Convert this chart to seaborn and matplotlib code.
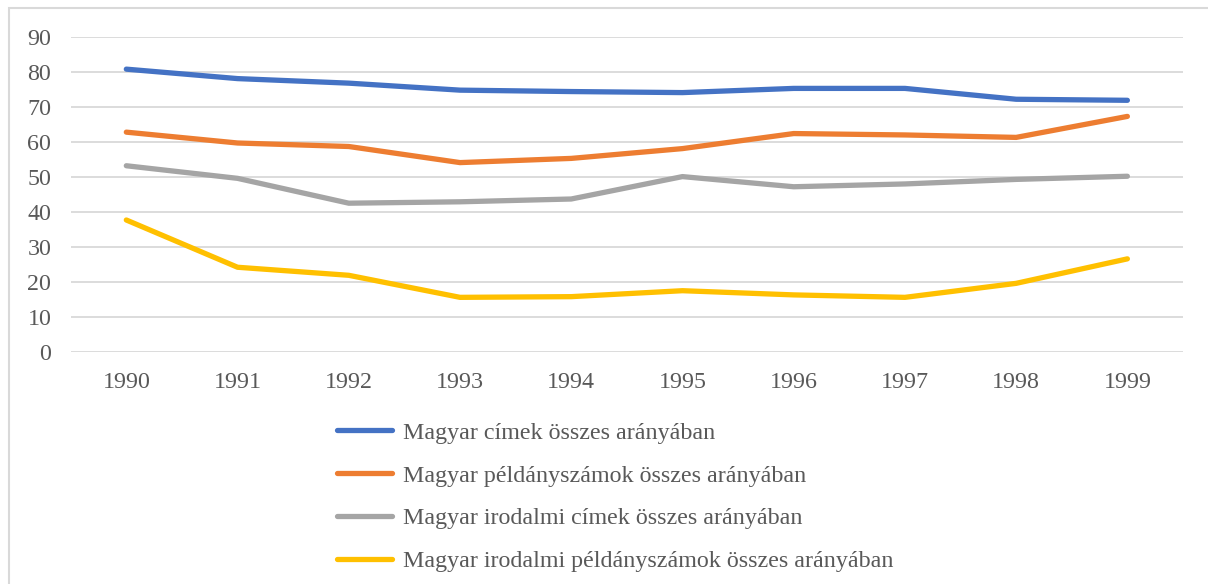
import numpy as np
import pandas as pd
import matplotlib
matplotlib.use("Agg")
import matplotlib.pyplot as plt
from matplotlib.patches import Rectangle
import seaborn as sns

# 数据
years = [1990, 1991, 1992, 1993, 1994, 1995, 1996, 1997, 1998, 1999]
cimek = [80.9, 78.2, 76.9, 74.9, 74.5, 74.2, 75.4, 75.4, 72.3, 72.0]
peldanyszamok = [62.9, 59.8, 58.8, 54.2, 55.4, 58.2, 62.5, 62.1, 61.4, 67.4]
irodalmi_cimek = [53.3, 49.7, 42.6, 43.0, 43.8, 50.2, 47.3, 48.1, 49.4, 50.3]
irodalmi_peldany = [37.8, 24.3, 22.0, 15.7, 15.9, 17.6, 16.4, 15.7, 19.7, 26.7]

series_names = [
    "Magyar címek összes arányában",
    "Magyar példányszámok összes arányában",
    "Magyar irodalmi címek összes arányában",
    "Magyar irodalmi példányszámok összes arányában",
]
colors = ["#4472C4", "#ED7D31", "#A5A5A5", "#FFC000"]

# 长格式表
df = pd.concat([
    pd.DataFrame({"year": years, "value": vals, "series": name})
    for name, vals in zip(series_names, [cimek, peldanyszamok, irodalmi_cimek, irodalmi_peldany])
])

sns.set_theme(style="white")
plt.rcParams["font.family"] = ["Liberation Serif", "DejaVu Serif"]
text_color = "#595959"
fs = 17.3

fig = plt.figure(figsize=(12.08, 5.84), dpi=100)
ax = fig.add_axes([70.7 / 1208, 1 - 352.3 / 584, (1183 - 70.7) / 1208, 315 / 584])

sns.lineplot(data=df, x="year", y="value", hue="series", palette=colors,
             linewidth=3.8, ax=ax, solid_capstyle="round", solid_joinstyle="round")

ax.set_xlim(1989.5, 1999.5)
ax.set_ylim(0, 90)
ax.set_xticks(years)
ax.set_yticks(range(0, 91, 10))
ax.set_xlabel("")
ax.set_ylabel("")
ax.yaxis.grid(True, color="#d9d9d9", linewidth=1.3)
ax.set_axisbelow(True)
for s in ax.spines.values():
    s.set_visible(False)
ax.tick_params(axis="both", length=0, labelsize=fs, labelcolor=text_color)
ax.tick_params(axis="x", pad=14)
ax.tick_params(axis="y", pad=14)

# 图例
ax.get_legend().remove()
handles, labels = ax.get_legend_handles_labels()
fig.legend(handles, labels, loc="upper left",
           bbox_to_anchor=(337 / 1208, 1 - 422 / 584),
           frameon=False, fontsize=fs, labelcolor=text_color,
           handlelength=2.3, handletextpad=0.45, labelspacing=0.87,
           borderpad=0, borderaxespad=0)

# 外框
fig.patches.append(Rectangle((8.5 / 1208, -0.1), 2, 1.1 - 8.5 / 584,
                             transform=fig.transFigure, fill=False,
                             edgecolor="#d9d9d9", linewidth=1.5))

fig.savefig("out.png", dpi=100)
